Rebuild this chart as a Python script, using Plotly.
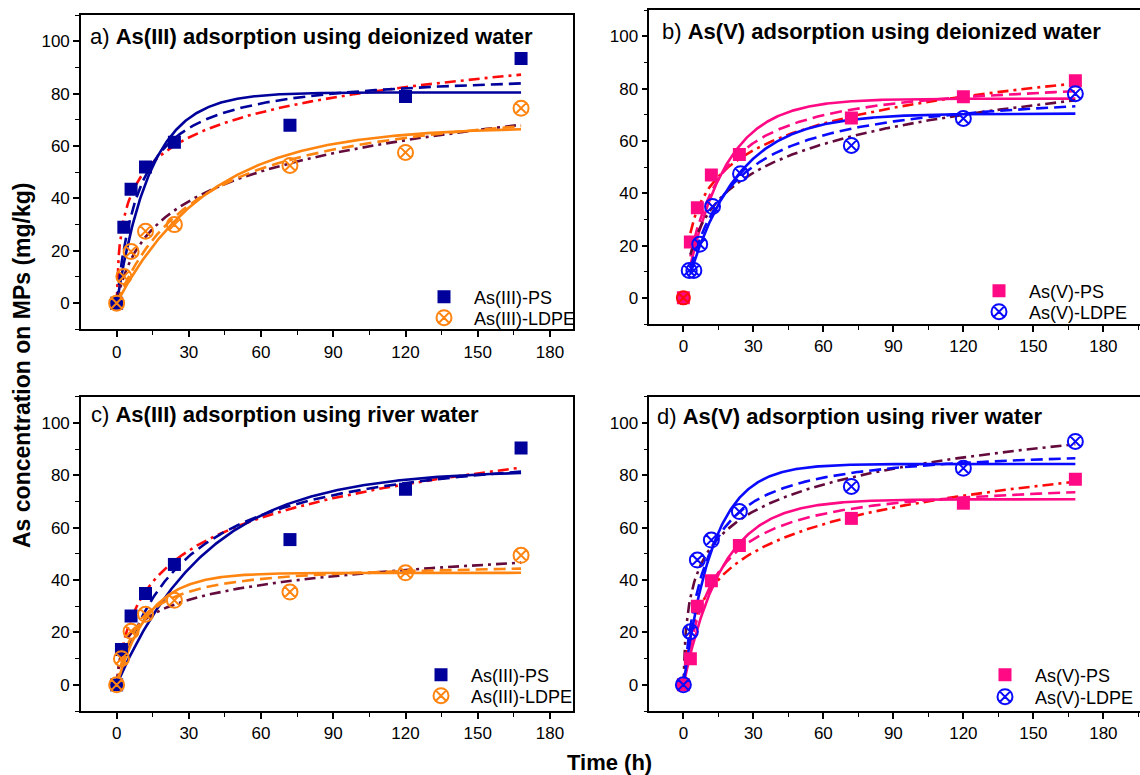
import numpy as np
import plotly.graph_objects as go

# ---------------- data ----------------
a_ps_t = [0, 3, 6, 12, 24, 72, 120, 168]
a_ps_q = [0, 29, 43.5, 52, 61.5, 68, 79, 93.5]
a_ldpe_t = [0, 3, 6, 12, 24, 72, 120, 168]
a_ldpe_q = [0, 10.2, 19.7, 27.5, 30, 52.6, 57.6, 74.5]

b_ps_t = [0, 3, 6, 12, 24, 72, 120, 168]
b_ps_q = [0, 21.4, 34.5, 47, 54.8, 68.8, 76.9, 83]
b_ldpe_t = [2.5, 4.5, 7, 12.5, 24.5, 72, 120, 168]
b_ldpe_q = [10.5, 10.5, 20.5, 34.9, 47.5, 58.3, 68.6, 78.1]
b_zero_t = [0]
b_zero_q = [0]

c_ps_t = [0, 2, 6, 12, 24, 72, 120, 168]
c_ps_q = [0, 13.5, 26.3, 34.9, 46, 55.5, 74.7, 90.5]
c_ldpe_t = [0, 2, 6, 12, 24, 72, 120, 168]
c_ldpe_q = [0, 10, 20.5, 27, 32.3, 35.5, 42.8, 49.5]

d_ps_t = [0, 3, 6, 12, 24, 72, 120, 168]
d_ps_q = [0, 10, 30, 39.8, 53.2, 63.6, 69.4, 78.6]
d_ldpe_t = [0, 3, 6, 12, 24, 72, 120, 168]
d_ldpe_q = [0, 20.3, 47.7, 55.3, 66.2, 75.8, 82.8, 93]

# fitted kinetic model parameters
# pseudo-first-order: qe, k1 ; pseudo-second-order: qe, k2 ; Elovich: alpha, beta
a_ps_pfo = [80.5, 0.07];   a_ps_pso = [88.9, 0.001138];   a_ps_elo = [42.4, 0.0714]
a_ldpe_pfo = [67.3, 0.026]; a_ldpe_pso = [82.0, 0.000341]; a_ldpe_elo = [4.63, 0.0556]
b_ps_pfo = [76.2, 0.06];   b_ps_pso = [85.2, 0.000891];   b_ps_elo = [21.1, 0.0667]
b_ldpe_pfo = [70.5, 0.047]; b_ldpe_pso = [81.3, 0.000667]; b_ldpe_elo = [9.46, 0.0606]
c_ps_pfo = [82.0, 0.026];  c_ps_pso = [95.2, 0.000373];   c_ps_elo = [8.79, 0.0526]
c_ldpe_pfo = [42.8, 0.075]; c_ldpe_pso = [46.9, 0.00224]; c_ldpe_elo = [13.66, 0.1205]
d_ps_pfo = [70.9, 0.06];   d_ps_pso = [79.15, 0.000997];  d_ps_elo = [12.1, 0.0625]
d_ldpe_pfo = [84.4, 0.078]; d_ldpe_pso = [91.35, 0.001188]; d_ldpe_elo = [41.0, 0.0667]

curve_start = [0, 3, 0, 0]   # panels a, b, c, d
curve_end = 168

titles = ["a) <b>As(III) adsorption using deionized water</b>",
          "b) <b>As(V) adsorption using deionized water</b>",
          "c) <b>As(III) adsorption using river water</b>",
          "d) <b>As(V) adsorption using river water</b>"]
names = [["As(III)-PS", "As(III)-LDPE"], ["As(V)-PS", "As(V)-LDPE"],
         ["As(III)-PS", "As(III)-LDPE"], ["As(V)-PS", "As(V)-LDPE"]]

# ---------------- styles ----------------
NAVY = "#00009A"; ORANGE = "#FF8410"; PINK = "#FF0A84"; BLUE = "#0A0AFF"
RED = "#FF0A0A"; WINE = "#640A3C"
FONT = "Liberation Sans, Arial, sans-serif"
LW = 2.6
TICKF = 17
LEGF = 18


def pfo(t, p):
    return p[0] * (1 - np.exp(-p[1] * t))


def pso(t, p):
    return p[0] ** 2 * p[1] * t / (1 + p[0] * p[1] * t)


def elo(t, p):
    return np.log(1 + p[0] * p[1] * t) / p[1]


panels = [
    dict(ps=(a_ps_t, a_ps_q), ldpe=(a_ldpe_t, a_ldpe_q),
         psm=(a_ps_pfo, a_ps_pso, a_ps_elo), ldm=(a_ldpe_pfo, a_ldpe_pso, a_ldpe_elo),
         c_ps=NAVY, c_ld=ORANGE),
    dict(ps=(b_ps_t, b_ps_q), ldpe=(b_ldpe_t, b_ldpe_q),
         psm=(b_ps_pfo, b_ps_pso, b_ps_elo), ldm=(b_ldpe_pfo, b_ldpe_pso, b_ldpe_elo),
         c_ps=PINK, c_ld=BLUE),
    dict(ps=(c_ps_t, c_ps_q), ldpe=(c_ldpe_t, c_ldpe_q),
         psm=(c_ps_pfo, c_ps_pso, c_ps_elo), ldm=(c_ldpe_pfo, c_ldpe_pso, c_ldpe_elo),
         c_ps=NAVY, c_ld=ORANGE),
    dict(ps=(d_ps_t, d_ps_q), ldpe=(d_ldpe_t, d_ldpe_q),
         psm=(d_ps_pfo, d_ps_pso, d_ps_elo), ldm=(d_ldpe_pfo, d_ldpe_pso, d_ldpe_elo),
         c_ps=PINK, c_ld=BLUE),
]

W, H = 1140, 775
# plot-area boxes in pixels: left, right, top, bottom
boxes = [(81, 573.3, 15, 329.3), (649.3, 1140, 10, 324),
         (81, 573.3, 396.7, 711), (649.3, 1140, 396.7, 711)]
xranges = [[-14.8, 189.7], [-14.6, 195.7], [-14.8, 189.7], [-14.6, 195.7]]
yrange = [-10, 110.1]

fig = go.Figure()
DASH = "12px,6px"
DASHDOT = "11px,5px,3px,5px"

for i, p in enumerate(panels):
    xa = "x" if i == 0 else f"x{i+1}"
    ya = "y" if i == 0 else f"y{i+1}"
    lg1 = f"legend{2*i+1}" if i > 0 else "legend"
    lg2 = f"legend{2*i+2}"
    t = np.linspace(curve_start[i], curve_end, 400)
    for models, col in ((p["psm"], p["c_ps"]), (p["ldm"], p["c_ld"])):
        elo_col = RED if col in (NAVY, PINK) else WINE
        fig.add_trace(go.Scatter(x=t, y=elo(t, models[2]), mode="lines", xaxis=xa, yaxis=ya,
                                 line=dict(color=elo_col, width=LW, dash=DASHDOT), showlegend=False))
        fig.add_trace(go.Scatter(x=t, y=pso(t, models[1]), mode="lines", xaxis=xa, yaxis=ya,
                                 line=dict(color=col, width=LW, dash=DASH), showlegend=False))
        fig.add_trace(go.Scatter(x=t, y=pfo(t, models[0]), mode="lines", xaxis=xa, yaxis=ya,
                                 line=dict(color=col, width=LW), showlegend=False))
    fig.add_trace(go.Scatter(x=p["ps"][0], y=p["ps"][1], mode="markers", xaxis=xa, yaxis=ya,
                             name=names[i][0], legend=lg1,
                             marker=dict(symbol="square", size=13, color=p["c_ps"],
                                         line=dict(width=0))))
    if i == 1:
        fig.add_trace(go.Scatter(x=b_zero_t, y=b_zero_q, mode="markers", xaxis=xa, yaxis=ya,
                                 showlegend=False,
                                 marker=dict(symbol="circle-x-open", size=13, color=RED,
                                             line=dict(width=2, color=RED))))
    fig.add_trace(go.Scatter(x=p["ldpe"][0], y=p["ldpe"][1], mode="markers", xaxis=xa, yaxis=ya,
                             name=names[i][1], legend=lg2,
                             marker=dict(symbol="circle-x-open", size=15, color=p["c_ld"],
                                         line=dict(width=2, color=p["c_ld"]))))

layout = dict(width=W, height=H, margin=dict(l=0, r=0, t=0, b=0, autoexpand=False),
              paper_bgcolor="white", plot_bgcolor="white",
              font=dict(family=FONT, size=15, color="black"))

# legend rows: marker x position (px), row centre y (px)
legend_rows = [(443, 297), (443, 318), (998, 291), (998, 312),
               (440, 675), (440, 696), (1004, 675), (1004, 697)]
for j, (mx, my) in enumerate(legend_rows):
    lk = "legend" if j == 0 else f"legend{j+1}"
    layout[lk] = dict(x=(mx - 29) / W, y=(H - my) / H, xanchor="left", yanchor="middle",
                      bgcolor="rgba(0,0,0,0)", borderwidth=0, itemwidth=50,
                      font=dict(size=LEGF, family=FONT, color="black"),
                      itemclick=False)

for i, (l, r, tp, bt) in enumerate(boxes):
    xk = "xaxis" if i == 0 else f"xaxis{i+1}"
    yk = "yaxis" if i == 0 else f"yaxis{i+1}"
    ya = "y" if i == 0 else f"y{i+1}"
    xa = "x" if i == 0 else f"x{i+1}"
    right_panel = i in (1, 3)
    layout[xk] = dict(domain=[l / W, r / W], range=xranges[i], anchor=ya,
                      showline=True, linecolor="black", linewidth=1.6, mirror=True,
                      ticks="outside", ticklen=6, tickwidth=1.5, tickcolor="black",
                      tick0=0, dtick=30, showgrid=False, zeroline=False,
                      tickfont=dict(size=TICKF, family=FONT, color="black"),
                      minor=dict(dtick=15, tick0=0, ticks="outside", ticklen=4,
                                 tickwidth=1.3, tickcolor="black", showgrid=False))
    layout[yk] = dict(domain=[(H - bt) / H, (H - tp) / H], range=yrange, anchor=xa,
                      showline=True, linecolor="black", linewidth=1.6,
                      mirror=not right_panel,
                      ticks="outside", ticklen=6, tickwidth=1.5, tickcolor="black",
                      tick0=0, dtick=20, showgrid=False, zeroline=False,
                      tickfont=dict(size=TICKF, family=FONT, color="black"),
                      minor=dict(dtick=10, tick0=0, ticks="outside", ticklen=4,
                                 tickwidth=1.3, tickcolor="black", showgrid=False))

title_pos = [(88, 37), (660, 32), (89, 414), (655, 416)]
annotations = []
for i, (tx, ty) in enumerate(title_pos):
    annotations.append(dict(text=titles[i], x=tx / W, y=(H - ty) / H, xref="paper", yref="paper",
                            xanchor="left", yanchor="middle", showarrow=False,
                            font=dict(size=22, family=FONT, color="black")))
annotations.append(dict(text="<b>As concentration on MPs (mg/kg)</b>", x=22 / W, y=(H - 366) / H,
                        xref="paper", yref="paper", textangle=-90, showarrow=False,
                        xanchor="center", yanchor="middle",
                        font=dict(size=23, family=FONT, color="black")))
annotations.append(dict(text="<b>Time (h)</b>", x=609 / W, y=(H - 762) / H,
                        xref="paper", yref="paper", showarrow=False,
                        xanchor="center", yanchor="middle",
                        font=dict(size=22, family=FONT, color="black")))
layout["annotations"] = annotations

fig.update_layout(**layout)
fig.write_html("out.html")
